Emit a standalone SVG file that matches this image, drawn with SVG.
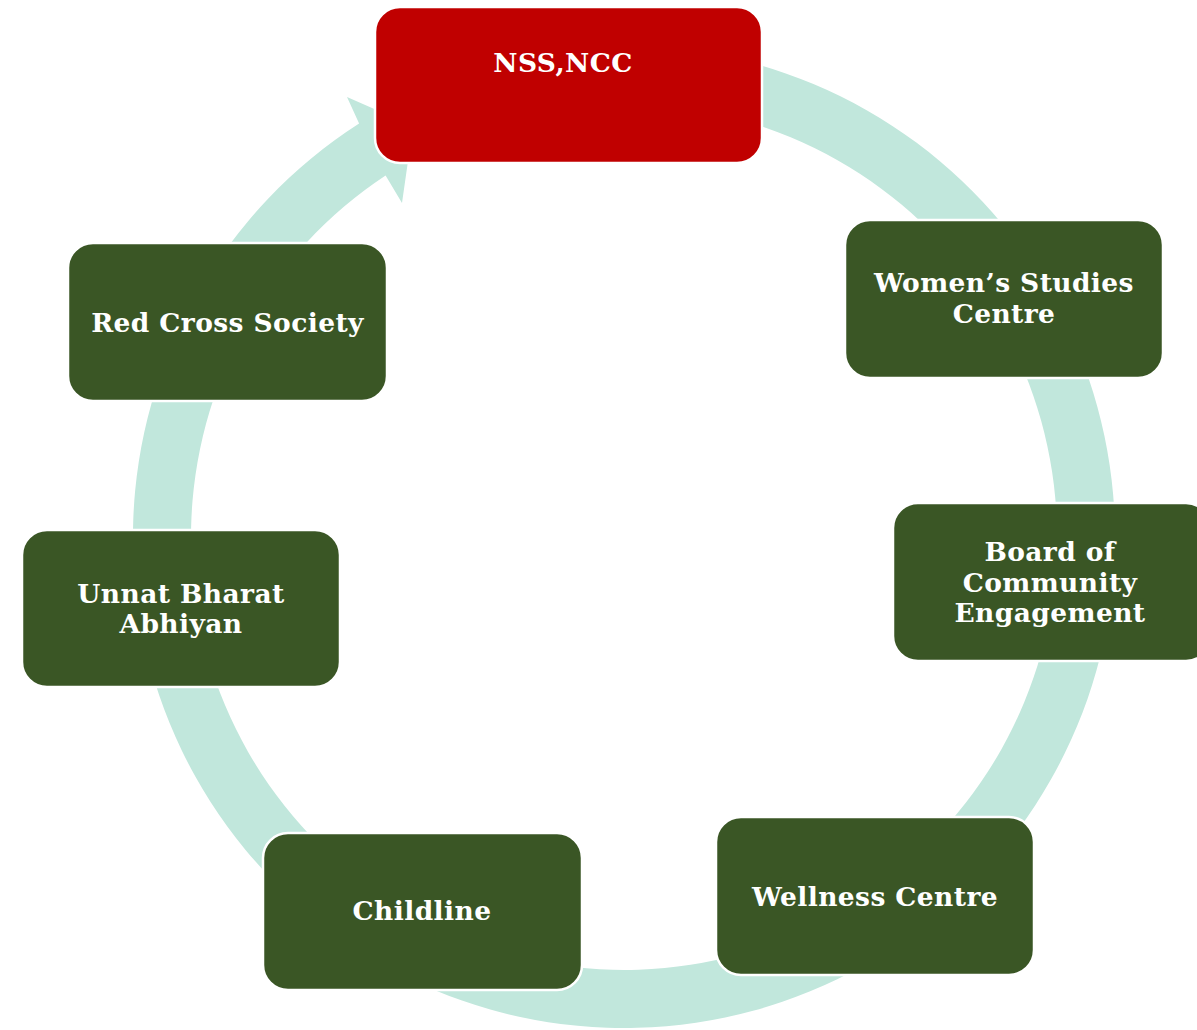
<svg xmlns="http://www.w3.org/2000/svg" width="1197" height="1030" viewBox="0 0 1197 1030">
<style>
.ring{fill:#C1E7DC;stroke:none}
.box{fill:#3A5625;stroke:#FFFFFF;stroke-width:2.5}
.red{fill:#C00000}
.lbl{font-family:"DejaVu Serif","Liberation Serif",serif;font-weight:bold;font-size:26.5px;letter-spacing:0.4px;fill:#FFFFFF;text-anchor:middle}
</style>
<rect width="1197" height="1030" fill="#FFFFFF"/>
<g id="connectors">
<path class="ring" d="M 581.2 47.9 A 491 491 0 1 1 359.1 123.6 L 347 97 L 413 126 L 402 203 L 385.6 175.5 A 433 433 0 1 0 586.3 105.6 Z"/>
</g>
<g id="node-nss">
<rect class="box red" x="375" y="7" width="387" height="156" rx="25"/>
<text class="lbl" x="563" y="72">NSS,NCC</text>
</g>
<g id="node-womens">
<rect class="box" x="845" y="220" width="318" height="158" rx="25"/>
<text class="lbl" x="1004" y="292">Women’s Studies</text>
<text class="lbl" x="1004" y="323">Centre</text>
</g>
<g id="node-board">
<rect class="box" x="893" y="503" width="318" height="158" rx="25"/>
<text class="lbl" x="1050" y="561">Board of</text>
<text class="lbl" x="1050" y="592">Community</text>
<text class="lbl" x="1050" y="622">Engagement</text>
</g>
<g id="node-wellness">
<rect class="box" x="716" y="817" width="318" height="158" rx="25"/>
<text class="lbl" x="875" y="906">Wellness Centre</text>
</g>
<g id="node-childline">
<rect class="box" x="263" y="833" width="319" height="157" rx="25"/>
<text class="lbl" x="422" y="920">Childline</text>
</g>
<g id="node-unnat">
<rect class="box" x="22" y="530" width="318" height="157" rx="25"/>
<text class="lbl" x="181" y="603">Unnat Bharat</text>
<text class="lbl" x="181" y="633">Abhiyan</text>
</g>
<g id="node-redcross">
<rect class="box" x="68" y="243" width="319" height="158" rx="25"/>
<text class="lbl" x="227.5" y="332">Red Cross Society</text>
</g>
</svg>
